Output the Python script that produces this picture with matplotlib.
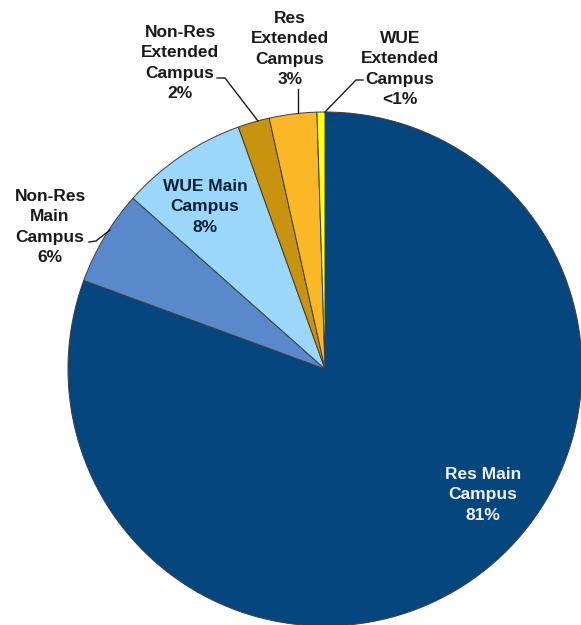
import matplotlib
matplotlib.use('Agg')
import matplotlib.pyplot as plt

plt.rcParams['font.family'] = ['Liberation Sans', 'DejaVu Sans']

# slices, clockwise from 12 o'clock
names = ['Res Main\nCampus', 'Non-Res\nMain\nCampus', 'WUE Main\nCampus',
         'Non-Res\nExtended\nCampus', 'Res\nExtended\nCampus', 'WUE\nExtended\nCampus']
shares = [81, 6, 8, 2, 3, 0.5]
pct_labels = ['81%', '6%', '8%', '2%', '3%', '<1%']
colors = ['#06467F', '#5A89CB', '#9AD7F9', '#C8940F', '#FBB826', '#FFFF10']

W, H = 581, 625
fig = plt.figure(figsize=(W / 100.0, H / 100.0), dpi=100)
ax = fig.add_axes([0, 0, 1, 1])

cx, cy, r = 325, H - 369, 257
ax.pie(shares, colors=colors, startangle=90, counterclock=False,
       center=(cx, cy), radius=r,
       wedgeprops=dict(edgecolor='#3c3c3c', linewidth=0.7))
ax.set_xlim(0, W)
ax.set_ylim(0, H)
ax.set_aspect('equal')
ax.axis('off')

# label centres (pixels from top-left) and leader lines
spots = [(483, 495), (50, 227), (205, 207), (180, 63), (290, 49), (400, 69)]
txt_col = ['#eef2f7', '#1a1a1a', '#0c1f3a', '#1a1a1a', '#1a1a1a', '#1a1a1a']
for i in range(len(names)):
    x, y = spots[i]
    ax.text(x, H - y, names[i] + '\n' + pct_labels[i], ha='center', va='center',
            fontsize=12.5, fontweight='bold', color=txt_col[i], linespacing=1.45)

leaders = [
    ([89, 96, 110], [242, 241, 230]),
    ([217, 225, 258], [78, 78, 121]),
    ([298, 298], [89, 113]),
    ([363, 356, 325], [80, 80, 112]),
]
for xs, ys in leaders:
    ax.plot(xs, [H - v for v in ys], color='#1a1a1a', linewidth=1.0)

plt.savefig('out.png', dpi=100)
